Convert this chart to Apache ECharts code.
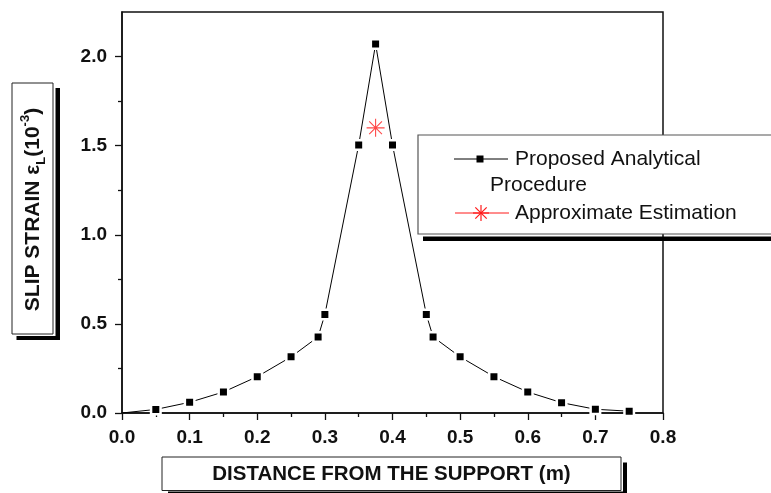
<!DOCTYPE html>
<html>
<head>
<meta charset="utf-8">
<script src="https://cdn.jsdelivr.net/npm/echarts@6/dist/echarts.min.js"></script>
<style>
html,body{margin:0;padding:0;background:#fff;}
#chart{width:771px;height:493px;}
</style>
</head>
<body>
<div id="chart"></div>
<script>
// ---- data ----
const distance = [0, 0.05, 0.1, 0.15, 0.2, 0.25, 0.29, 0.3, 0.35, 0.375, 0.4, 0.45, 0.46, 0.5, 0.55, 0.6, 0.65, 0.7, 0.75];
const slipStrain = [0, 0.02, 0.06, 0.118, 0.204, 0.315, 0.427, 0.553, 1.504, 2.07, 1.504, 0.553, 0.427, 0.315, 0.204, 0.118, 0.058, 0.021, 0.01];
const approxX = [0.375];
const approxY = [1.6];
const xTicks = [0, 0.1, 0.2, 0.3, 0.4, 0.5, 0.6, 0.7, 0.8];
const yTicks = [0, 0.5, 1.0, 1.5, 2.0];
const yMinorTicks = [0.25, 0.75, 1.25, 1.75];
const seriesNames = ['Proposed Analytical Procedure', 'Approximate Estimation'];

const FONT = '"Liberation Sans", Arial, sans-serif';
const asterisk = 'path://M0 47 L100 47 L100 53 L0 53 Z M47 0 L53 0 L53 100 L47 100 Z M12.5 16.7 L16.7 12.5 L87.5 83.3 L83.3 87.5 Z M83.3 12.5 L87.5 16.7 L16.7 87.5 L12.5 83.3 Z';

const mainData = distance.map((x, i) => i === 0 ? {value: [x, slipStrain[i]], symbol: 'none'} : [x, slipStrain[i]]);
const approxData = approxX.map((x, i) => [x, approxY[i]]);

const chart = echarts.init(document.getElementById('chart'), null, {renderer: 'canvas'});
const option = {
  animation: false,
  backgroundColor: '#fff',
  grid: {left: 122, right: 108, top: 12, bottom: 80, show: true, borderColor: '#111', borderWidth: 1.5, backgroundColor: 'transparent'},
  xAxis: {
    type: 'value', min: 0, max: 0.8, interval: 0.1,
    axisLine: {show: true, lineStyle: {color: '#111', width: 1.5}},
    axisTick: {show: true, inside: false, length: 7, lineStyle: {color: '#111', width: 1.3}},
    minorTick: {show: true, splitNumber: 2, length: 4, lineStyle: {color: '#111', width: 1.3}},
    splitLine: {show: false},
    axisLabel: {show: true, margin: 15, fontFamily: FONT, fontWeight: 'bold', fontSize: 19, color: '#111',
      customValues: xTicks, formatter: v => v.toFixed(1)}
  },
  yAxis: [{
    type: 'value', min: 0, max: 2.25, interval: 0.25,
    axisLine: {show: true, lineStyle: {color: '#111', width: 1.5}},
    axisTick: {show: true, inside: false, length: 7, customValues: yTicks, lineStyle: {color: '#111', width: 1.3}},
    splitLine: {show: false},
    axisLabel: {show: true, margin: 15, fontFamily: FONT, fontWeight: 'bold', fontSize: 19, color: '#111',
      customValues: yTicks, formatter: v => v.toFixed(1)}
  }, {
    type: 'value', min: 0, max: 2.25, interval: 0.25, position: 'left',
    axisLine: {show: false},
    axisTick: {show: true, inside: false, length: 4, customValues: yMinorTicks, lineStyle: {color: '#111', width: 1.3}},
    splitLine: {show: false},
    axisLabel: {show: false}
  }],
  series: [{
    name: seriesNames[0], type: 'line', data: mainData,
    symbol: 'rect', symbolSize: 9.5,
    itemStyle: {color: '#000', borderColor: '#fff', borderWidth: 2.5},
    lineStyle: {color: '#000', width: 1},
    emphasis: {disabled: true}, z: 3
  }, {
    name: seriesNames[1], type: 'scatter', data: approxData,
    symbol: asterisk, symbolSize: 18,
    itemStyle: {color: '#ff1a1a'},
    emphasis: {disabled: true}, z: 4
  }],
  graphic: [
    // legend box
    {type: 'rect', z: 100, shape: {x: 418, y: 135, width: 400, height: 99}, style: {fill: '#fff', stroke: '#555', lineWidth: 1.2}},
    {type: 'rect', z: 100, shape: {x: 423, y: 236.5, width: 360, height: 4.5}, style: {fill: '#000'}},
    {type: 'line', z: 101, shape: {x1: 454, y1: 159, x2: 508, y2: 159}, style: {stroke: '#000', lineWidth: 1}},
    {type: 'rect', z: 101, shape: {x: 476.5, y: 155.5, width: 7, height: 7}, style: {fill: '#000'}},
    {type: 'text', z: 101, x: 515, y: 159, style: {text: 'Proposed Analytical', fontFamily: FONT, fontSize: 21, fill: '#111', verticalAlign: 'middle', align: 'left'}},
    {type: 'text', z: 101, x: 490, y: 185, style: {text: 'Procedure', fontFamily: FONT, fontSize: 21, fill: '#111', verticalAlign: 'middle', align: 'left'}},
    {type: 'line', z: 101, shape: {x1: 455, y1: 213, x2: 509, y2: 213}, style: {stroke: '#ff1a1a', lineWidth: 1}},
    {type: 'group', z: 101, x: 481, y: 213, children: [
      {type: 'line', z: 101, shape: {x1: -8, y1: 0, x2: 8, y2: 0}, style: {stroke: '#ff1a1a', lineWidth: 1.2}},
      {type: 'line', z: 101, shape: {x1: 0, y1: -8, x2: 0, y2: 8}, style: {stroke: '#ff1a1a', lineWidth: 1.2}},
      {type: 'line', z: 101, shape: {x1: -5.7, y1: -5.7, x2: 5.7, y2: 5.7}, style: {stroke: '#ff1a1a', lineWidth: 1.2}},
      {type: 'line', z: 101, shape: {x1: -5.7, y1: 5.7, x2: 5.7, y2: -5.7}, style: {stroke: '#ff1a1a', lineWidth: 1.2}}
    ]},
    {type: 'text', z: 101, x: 515, y: 213, style: {text: 'Approximate Estimation', fontFamily: FONT, fontSize: 21, fill: '#111', verticalAlign: 'middle', align: 'left'}},
    // x axis title box
    {type: 'rect', z: 100, shape: {x: 623, y: 462.5, width: 4, height: 32}, style: {fill: '#000'}},
    {type: 'rect', z: 100, shape: {x: 168, y: 491.5, width: 459, height: 4}, style: {fill: '#000'}},
    {type: 'rect', z: 100, shape: {x: 162, y: 457, width: 459, height: 33.5}, style: {fill: '#fff', stroke: '#222', lineWidth: 1}},
    {type: 'text', z: 101, x: 391.5, y: 474, style: {text: 'DISTANCE FROM THE SUPPORT (m)', fontFamily: FONT, fontWeight: 'bold', fontSize: 20.5, fill: '#111', align: 'center', verticalAlign: 'middle'}},
    // y axis title box
    {type: 'rect', z: 100, shape: {x: 55.5, y: 88, width: 4.5, height: 252}, style: {fill: '#000'}},
    {type: 'rect', z: 100, shape: {x: 16.5, y: 336, width: 43.5, height: 4}, style: {fill: '#000'}},
    {type: 'rect', z: 100, shape: {x: 12, y: 83, width: 41, height: 251}, style: {fill: '#fff', stroke: '#222', lineWidth: 1}},
    {type: 'text', z: 101, x: 33, y: 209.5, rotation: Math.PI / 2, style: {
      text: '{a|SLIP STRAIN ε}{sub|L}{a|(10}{sup|-3}{a|)}',
      fontFamily: FONT, fontWeight: 'bold', fontSize: 21, fill: '#111', align: 'center', verticalAlign: 'middle',
      rich: {
        a: {fontFamily: FONT, fontWeight: 'bold', fontSize: 21, lineHeight: 29, fill: '#111'},
        sub: {fontFamily: FONT, fontWeight: 'bold', fontSize: 13, lineHeight: 14, verticalAlign: 'bottom', fill: '#111'},
        sup: {fontFamily: FONT, fontWeight: 'bold', fontSize: 13, lineHeight: 14, verticalAlign: 'top', fill: '#111'}
      }
    }}
  ]
};
chart.setOption(option);
</script>
</body>
</html>
